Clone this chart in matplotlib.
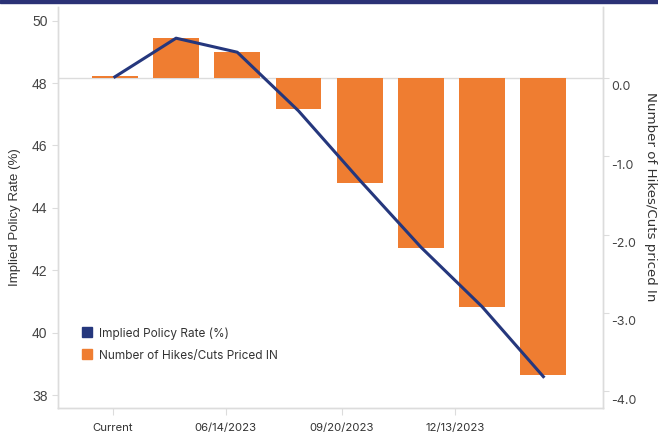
import matplotlib.pyplot as plt
import matplotlib.transforms as mtransforms
import numpy as np
from matplotlib.lines import Line2D
from matplotlib.patches import Rectangle

# data
dates = ["Current", "05/03", "06/14/2023", "07/26", "09/20/2023", "11/01", "12/13/2023", "01/31"]
policy_rate = [48.20, 49.44, 48.99, 47.11, 44.89, 42.74, 40.83, 38.59]
hikes_cuts = [0.03, 0.51, 0.33, -0.40, -1.34, -2.17, -2.93, -3.80]
tick_labels = ["Current", "06/14/2023", "09/20/2023", "12/13/2023"]
tick_pos = [-0.03, 1.81, 3.71, 5.56]

navy = '#25377d'
orange = '#ef7d31'
grey = '#dcdcdc'
txt = '#444444'

fig = plt.figure(figsize=(6.58, 4.37), dpi=100)
ax = fig.add_axes([0.088, 0.0675, 0.828, 0.9165])
ax2 = ax.twinx()

x = np.arange(len(dates))
ax2.bar(x, hikes_cuts, width=0.75, color=orange, zorder=2)
ax2.axhline(0, color=grey, lw=1, zorder=1)
ax.plot(x, policy_rate, color=navy, lw=2.2, zorder=3)

ax.set_zorder(ax2.get_zorder() + 1)
ax.patch.set_visible(False)

ax.set_xlim(-0.93, 7.97)
ax.set_ylim(37.6, 50.44)
ax2.set_ylim(-4.21, 0.907)

ax.set_yticks([38, 40, 42, 44, 46, 48, 50])
ax.tick_params(axis='y', length=4, color=grey, labelsize=10, labelcolor=txt, labelfontfamily='Liberation Sans')
ax2.set_yticks([0, -1, -2, -3, -4])
ax2.set_yticklabels(['0.0', '-1.0', '-2.0', '-3.0', '-4.0'])
ax2.tick_params(axis='y', length=4, color=grey, labelsize=9, labelcolor=txt, labelfontfamily='Inter', pad=2)
# right labels sit a little below their ticks in the reference
shift = mtransforms.ScaledTranslation(0, -8 / 100, fig.dpi_scale_trans)
for lab in ax2.get_yticklabels():
    lab.set_transform(lab.get_transform() + shift)

ax.set_xticks(tick_pos)
ax.set_xticklabels(tick_labels, fontfamily='Inter', fontsize=8.2, color='#333333')
ax.tick_params(axis='x', length=5, color=grey, pad=6)

for a in (ax, ax2):
    a.spines['top'].set_visible(False)
    for s in ('left', 'right', 'bottom'):
        a.spines[s].set_color(grey)
        a.spines[s].set_linewidth(1)

fig.text(15 / 658, 1 - 217 / 437, 'Implied Policy Rate (%)', rotation=90, ha='center', va='center',
         fontsize=9.5, color='#333333', family='Liberation Sans')
fig.text(651 / 658, 1 - 197 / 437, 'Number of Hikes/Cuts priced In', rotation=270, ha='center', va='center',
         fontsize=9.6, color='#333333', family='DejaVu Sans')

handles = [Line2D([], [], marker='s', ls='', color=navy, markersize=7),
           Line2D([], [], marker='s', ls='', color=orange, markersize=7)]
fig.legend(handles, ['Implied Policy Rate (%)', 'Number of Hikes/Cuts Priced IN'],
           loc='upper left', bbox_to_anchor=(82 / 658, 1 - 327 / 437), frameon=False,
           prop={'family': 'Inter', 'size': 8.5}, labelcolor='#333333',
           handlelength=0.8, handletextpad=0.6, labelspacing=0.85, borderpad=0, borderaxespad=0)

fig.add_artist(Rectangle((0, 1 - 3 / 437), 1, 3 / 437, transform=fig.transFigure, color='#2b3276'))

fig.savefig('out.png', dpi=100)
